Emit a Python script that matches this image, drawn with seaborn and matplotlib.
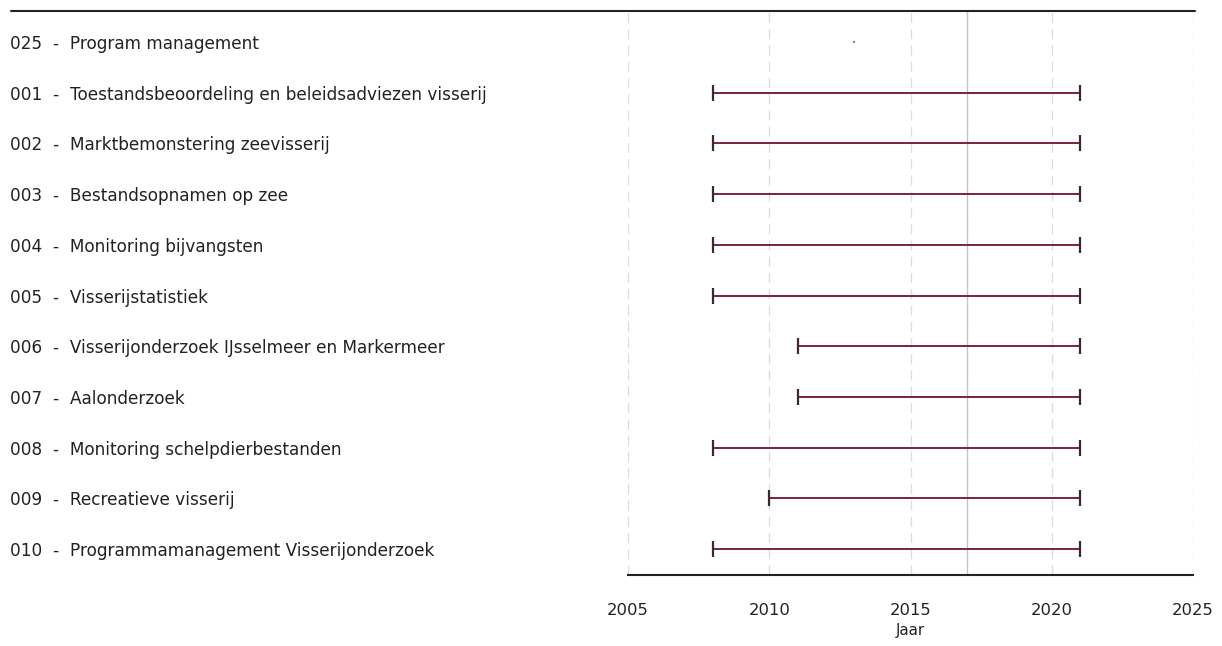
import numpy as np
import pandas as pd
import seaborn as sns
import matplotlib.pyplot as plt
from matplotlib.lines import Line2D

codes = ['025', '001', '002', '003', '004', '005', '006', '007', '008', '009', '010']
names = ['Program management',
         'Toestandsbeoordeling en beleidsadviezen visserij',
         'Marktbemonstering zeevisserij',
         'Bestandsopnamen op zee',
         'Monitoring bijvangsten',
         'Visserijstatistiek',
         'Visserijonderzoek IJsselmeer en Markermeer',
         'Aalonderzoek',
         'Monitoring schelpdierbestanden',
         'Recreatieve visserij',
         'Programmamanagement Visserijonderzoek']
start = [2013, 2008, 2008, 2008, 2008, 2008, 2011, 2011, 2008, 2010, 2008]
end = [2013, 2021, 2021, 2021, 2021, 2021, 2021, 2021, 2021, 2021, 2021]
year_ticks = [2005, 2010, 2015, 2020, 2025]
now_year = 2017

df = pd.DataFrame({'code': codes, 'name': names, 'start': start, 'end': end})
df['label'] = df['code'] + '  -  ' + df['name']
df['row'] = np.arange(len(df))

sns.set_style('white')
plt.rcParams['font.family'] = ['DejaVu Sans']

fig = plt.figure(figsize=(12.22, 6.46), dpi=100)
ax = fig.add_axes([628 / 1222, 1 - 575 / 646, 565 / 1222, 564 / 646])

for x in year_ticks:
    ax.axvline(x, color='#dcdcdc', lw=0.9, ls=(0, (8, 5)), zorder=0)
ax.axvline(now_year, color='#c4c4c4', lw=1.0, zorder=0)

bar = '#7a2040'
spans = df[df['start'] < df['end']]
ax.hlines(spans['row'], spans['start'], spans['end'], color=bar, lw=1.4, zorder=3)
sns.scatterplot(data=spans, x='start', y='row', marker='|', s=130, linewidth=1.6,
                color='#3a2a30', ax=ax, zorder=4)
sns.scatterplot(data=spans, x='end', y='row', marker='|', s=130, linewidth=1.6,
                color='#3a2a30', ax=ax, zorder=4)
dots = df[df['start'] == df['end']]
sns.scatterplot(data=dots, x='start', y='row', marker='.', s=10, color='#777777',
                edgecolor='none', ax=ax, zorder=4)

ax.set_xlim(2005, 2025)
ax.set_ylim(len(df) - 1 + 0.51, -0.61)
ax.set_xticks(year_ticks)
ax.set_xticklabels([str(y) for y in year_ticks], fontsize=11.8, color='#222222')
ax.set_yticks(df['row'])
ax.set_yticklabels(df['label'], fontsize=12.2, color='#222222', ha='left')
ax.tick_params(axis='y', length=0, pad=(628 - 10) * 0.72)
ax.tick_params(axis='x', length=7, width=1.3, color='#222222', pad=13)
ax.set_xlabel('Jaar', fontsize=10.8, color='#222222', labelpad=4)
ax.set_ylabel('')

for s in ['left', 'right', 'top']:
    ax.spines[s].set_visible(False)
ax.spines['bottom'].set_color('#222222')
ax.spines['bottom'].set_linewidth(1.5)

fig.add_artist(Line2D([11 / 1222, 1195 / 1222], [1 - 11 / 646, 1 - 11 / 646],
                      color='#222222', lw=1.5, transform=fig.transFigure))

fig.savefig('out.png', dpi=100)
